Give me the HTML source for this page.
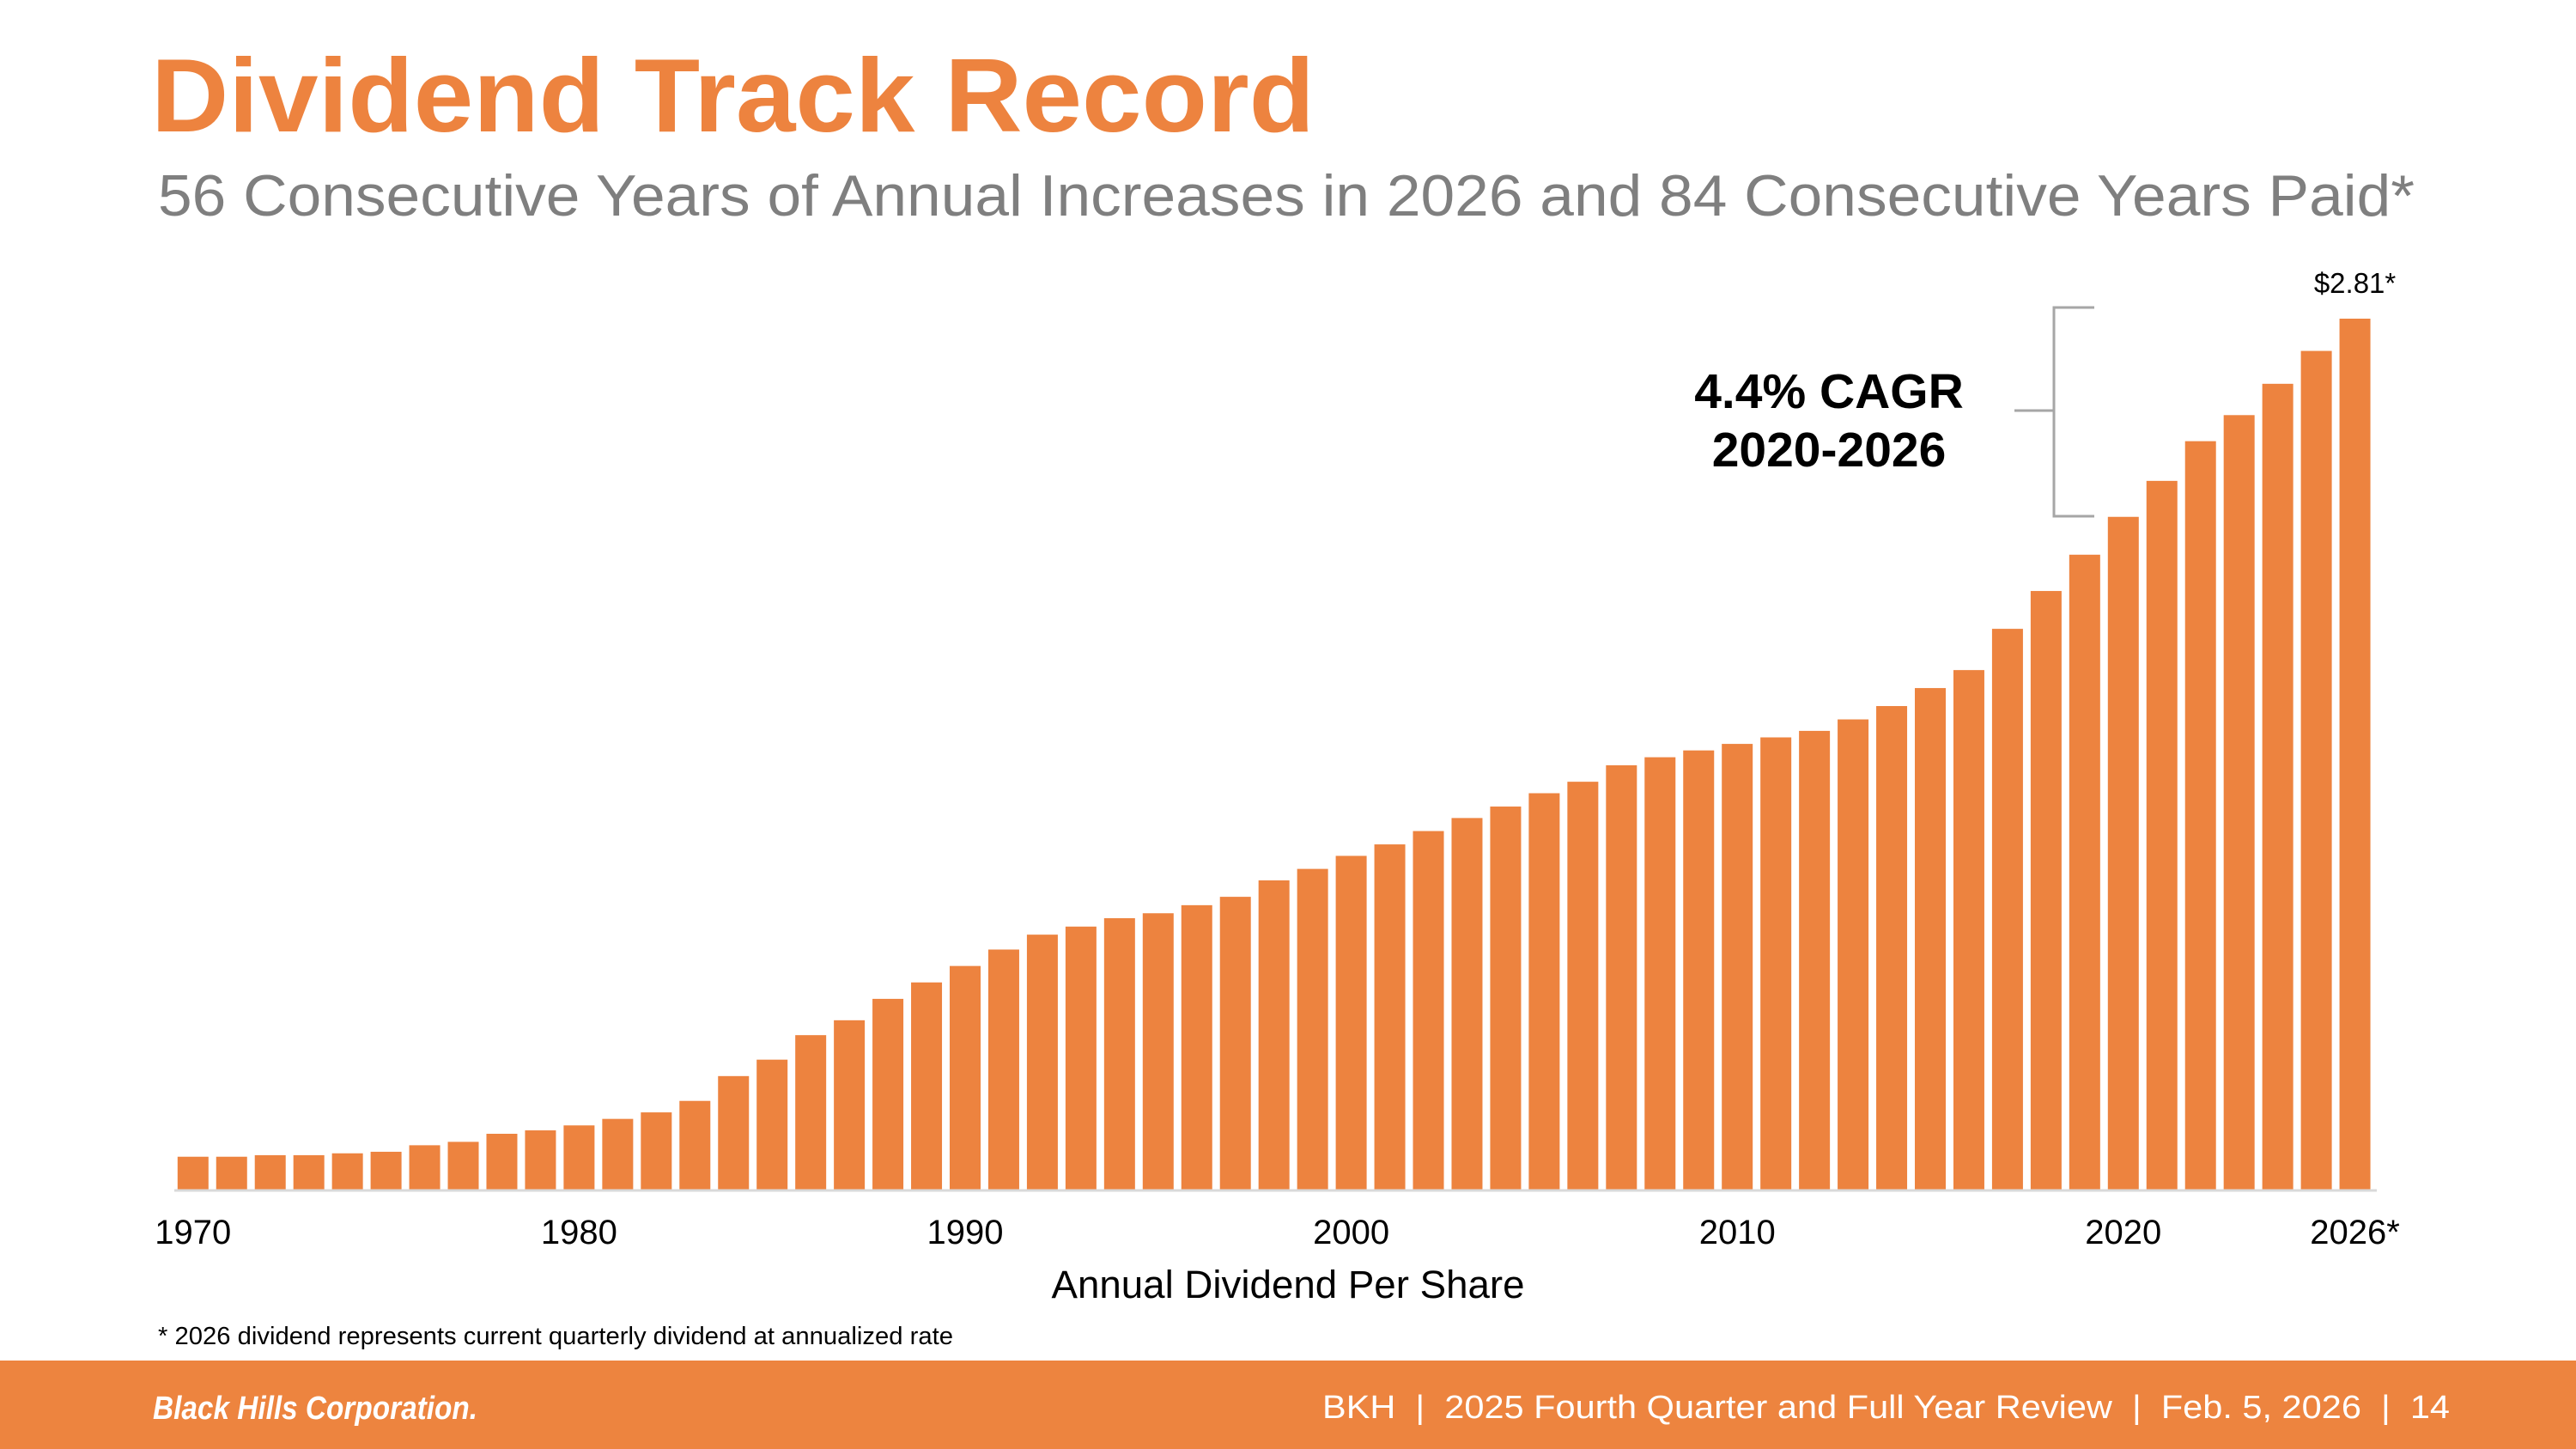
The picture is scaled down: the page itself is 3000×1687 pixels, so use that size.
<!DOCTYPE html>
<html><head><meta charset="utf-8"><style>
html,body{margin:0;padding:0;background:#fff}
svg{display:block;font-family:"Liberation Sans",Arial,sans-serif}
</style></head><body>
<svg id="chart" width="3000" height="1687" viewBox="0 0 3000 1687" xmlns="http://www.w3.org/2000/svg">
<text x="176" y="153" font-size="122" font-weight="bold" fill="#ED833F" textLength="1355" lengthAdjust="spacingAndGlyphs">Dividend Track Record</text>
<text x="184" y="251" font-size="68" fill="#7F7F7F" textLength="2628" lengthAdjust="spacingAndGlyphs">56 Consecutive Years of Annual Increases in 2026 and 84 Consecutive Years Paid*</text>
<g id="bars"></g>
<line x1="203" y1="1386" x2="2768" y2="1386" stroke="#D9D9D9" stroke-width="3"/>
<g id="ticks"></g>
<text x="1500" y="1511" font-size="45" fill="#000" text-anchor="middle" textLength="551" lengthAdjust="spacingAndGlyphs">Annual Dividend Per Share</text>
<text id="lastLabel" x="2742" y="341" font-size="33" fill="#000" text-anchor="middle">$2.81*</text>
<g stroke="#A6A6A6" stroke-width="3" fill="none">
<polyline points="2439,358 2392,358 2392,601 2439,601"/>
<line x1="2392" y1="478" x2="2346" y2="478"/>
</g>
<text x="2130" y="475" font-size="57" font-weight="bold" fill="#000" text-anchor="middle">4.4% CAGR</text>
<text x="2130" y="543" font-size="57" font-weight="bold" fill="#000" text-anchor="middle">2020-2026</text>
<text x="184" y="1565" font-size="29" fill="#000" textLength="926" lengthAdjust="spacingAndGlyphs">* 2026 dividend represents current quarterly dividend at annualized rate</text>
<rect x="0" y="1584" width="3000" height="103" fill="#ED843F"/>
<text x="178" y="1652" font-size="38" font-weight="bold" font-style="italic" fill="#fff" textLength="378" lengthAdjust="spacingAndGlyphs">Black Hills Corporation.</text>
<text x="2853" y="1651" font-size="38" fill="#fff" text-anchor="end" textLength="1313" lengthAdjust="spacingAndGlyphs" xml:space="preserve">BKH  |  2025 Fourth Quarter and Full Year Review  |  Feb. 5, 2026  |  14</text>
</svg>
<script>
const years = [];
for (let y = 1970; y <= 2026; y++) years.push(y);
const dividends = [0.106,0.106,0.111,0.111,0.117,0.122,0.143,0.154,0.180,0.191,
0.207,0.228,0.249,0.286,0.366,0.419,0.498,0.546,0.615,0.668,
0.721,0.774,0.822,0.848,0.875,0.891,0.917,0.944,0.997,1.034,
1.076,1.113,1.156,1.198,1.235,1.278,1.315,1.368,1.394,1.416,
1.437,1.458,1.479,1.516,1.559,1.617,1.675,1.808,1.930,2.047,
2.169,2.285,2.413,2.497,2.598,2.704,2.808];
const tickYears = [1970,1980,1990,2000,2010,2020,2026];
const tickLabels = ["1970","1980","1990","2000","2010","2020","2026*"];

const NS = "http://www.w3.org/2000/svg";
const x0 = 224.8, step = 44.96, barW = 36, baseY = 1385, topY = 371, maxV = 2.808;
function xScale(yr){ return x0 + (yr - years[0]) * step; }
function yScale(v){ return baseY - v / maxV * (baseY - topY); }

const gb = document.getElementById('bars');
years.forEach((yr, i) => {
  const r = document.createElementNS(NS, 'rect');
  
  
  const y = yScale(dividends[i]);
  r.setAttribute('x', xScale(yr) - barW / 2);
  r.setAttribute('y', y);
  r.setAttribute('width', barW);
  r.setAttribute('height', baseY - y);
  r.setAttribute('fill', '#ED833F');
  gb.appendChild(r);
});
const last = dividends.length - 1;
const ll = document.getElementById('lastLabel');
ll.setAttribute('x', xScale(years[last]));
ll.setAttribute('y', yScale(dividends[last]) - 30);

const gt = document.getElementById('ticks');
tickYears.forEach((yr, i) => {
  const t = document.createElementNS(NS, 'text');
  
  
  t.setAttribute('x', xScale(yr));
  t.setAttribute('y', 1448);
  t.setAttribute('font-size', '40');
  t.setAttribute('text-anchor', 'middle');
  t.textContent = tickLabels[i];
  gt.appendChild(t);
});
</script>
</body></html>
